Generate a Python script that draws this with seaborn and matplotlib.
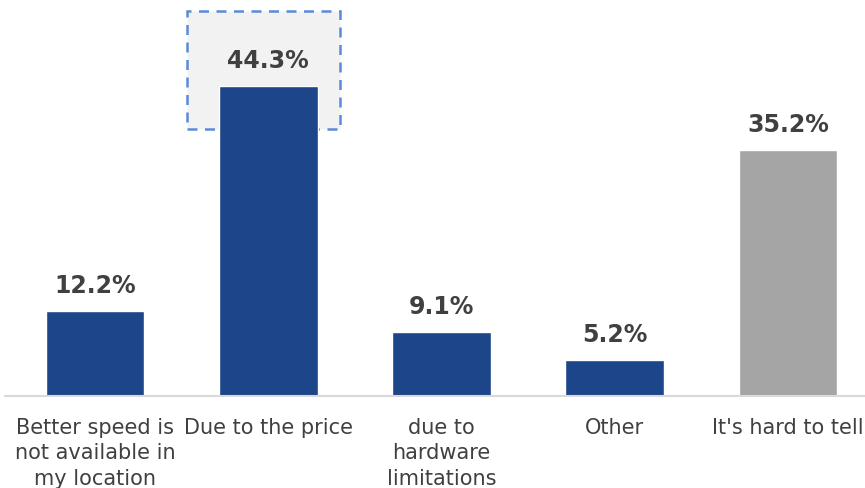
import matplotlib
matplotlib.use("Agg")
import matplotlib.pyplot as plt
from matplotlib.patches import Rectangle
import seaborn as sns
import pandas as pd

categories = [
    "Better speed is\nnot available in\nmy location",
    "Due to the price",
    "due to\nhardware\nlimitations",
    "Other",
    "It's hard to tell",
]
values = [12.2, 44.3, 9.1, 5.2, 35.2]
labels = ["12.2%", "44.3%", "9.1%", "5.2%", "35.2%"]
bar_colors = ["#1d4589", "#1d4589", "#1d4589", "#1d4589", "#a5a5a5"]

sns.set_theme(style="white")
plt.rcParams["font.family"] = ["DejaVu Sans"]

df = pd.DataFrame({"reason": categories, "share": values})

fig = plt.figure(figsize=(8.65, 4.89), dpi=100)
ax = fig.add_axes([5 / 865, 1 - 397 / 489, 860 / 865, 397 / 489])

sns.barplot(data=df, x="reason", y="share", hue="reason", palette=bar_colors,
            width=0.57, legend=False, ax=ax, saturation=1)

ax.set_xlim(-0.519, 4.444)
ax.set_ylim(0, 397 / 7.0)

# highlight box around the price bar
box = Rectangle((0.533, 38.1), 1.415 - 0.533, 55.0 - 38.1,
                facecolor="#f2f2f2", edgecolor="#5b8ad8", linestyle=(0, (4, 3)),
                linewidth=1.8, zorder=0)
ax.add_patch(box)

for i, (v, lab) in enumerate(zip(values, labels)):
    ax.text(i, v + 3.7, lab, ha="center", va="center", fontsize=17,
            fontweight="bold", color="#404040")

for s in ["top", "right", "left"]:
    ax.spines[s].set_visible(False)
ax.spines["bottom"].set_color("#d9d9d9")
ax.spines["bottom"].set_linewidth(1.5)

ax.set_yticks([])
ax.set_xlabel("")
ax.set_ylabel("")
ax.tick_params(axis="x", length=0, pad=15, labelsize=15, labelcolor="#404040")
for t in ax.get_xticklabels():
    t.set_linespacing(1.35)

fig.savefig("out.png", dpi=100)
